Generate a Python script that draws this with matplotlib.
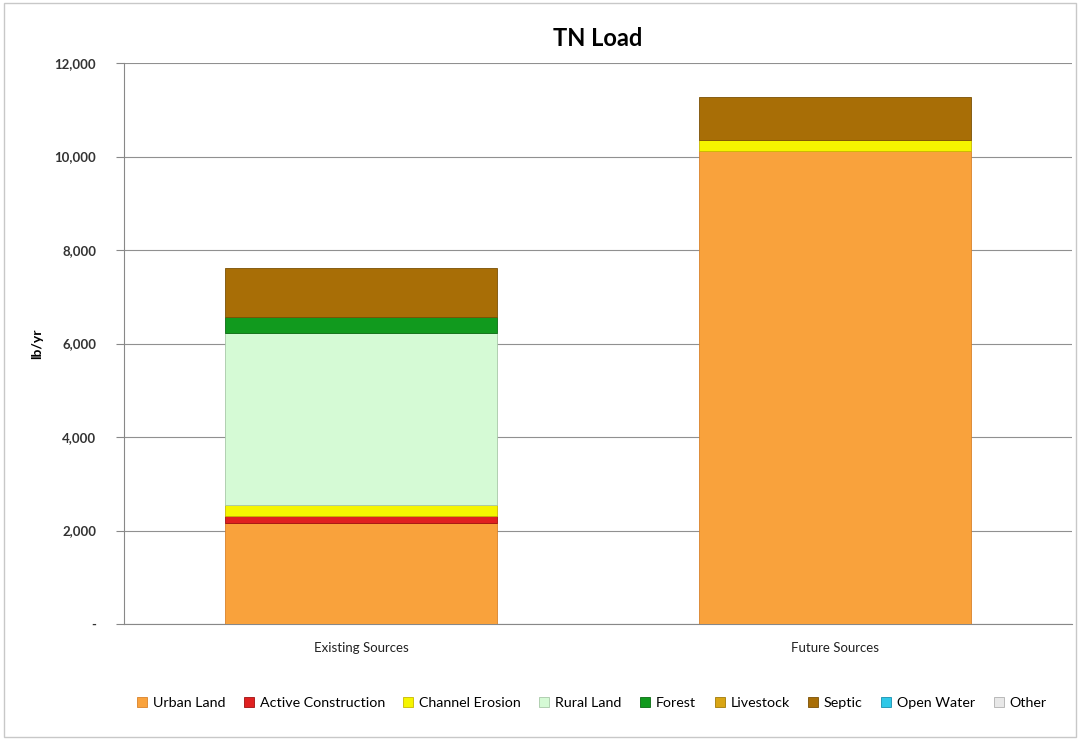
import matplotlib
matplotlib.use("Agg")
import matplotlib.pyplot as plt
from matplotlib.ticker import FuncFormatter
from matplotlib.patches import Rectangle

plt.rcParams['font.family'] = ['Lato', 'DejaVu Sans']

categories = ["Existing Sources", "Future Sources"]
series_names = ["Urban Land", "Active Construction", "Channel Erosion", "Rural Land",
                "Forest", "Livestock", "Septic", "Open Water", "Other"]
urban_land = [2160, 10120]
active_construction = [150, 0]
channel_erosion = [235, 235]
rural_land = [3680, 0]
forest = [340, 0]
livestock = [0, 0]
septic = [1050, 920]
open_water = [0, 0]
other = [0, 0]
yticks = [0, 2000, 4000, 6000, 8000, 10000, 12000]

series = [urban_land, active_construction, channel_erosion, rural_land, forest,
          livestock, septic, open_water, other]
colors = ["#F9A23C", "#E02020", "#F5F500", "#D5FAD5", "#119A1E", "#D9A514",
          "#A86E06", "#2EC8E8", "#E8E8E8"]
edges = ["#D9822A", "#A01010", "#C8B800", "#A8C8A8", "#0A6A12", "#A07A08",
         "#7A5004", "#1890B0", "#B0B0B0"]

fig = plt.figure(figsize=(10.8, 7.4), dpi=100)
fig.patches.append(Rectangle((0.004, 0.004), 0.992, 0.992, transform=fig.transFigure,
                             fill=False, edgecolor="#C8C8C8", linewidth=1.0))
ax = fig.add_axes([124/1080, 1-624/740, 948/1080, 561/740])

x = [0, 1]
bottom = [0, 0]
handles = []
for name, vals, c, e in zip(series_names, series, colors, edges):
    bars = ax.bar(x, vals, width=0.574, bottom=bottom, color=c, edgecolor=e, linewidth=0.6,
                  zorder=3)
    for b, v in zip(bars, vals):
        if v == 0:
            b.set_linewidth(0)
    handles.append(Rectangle((0, 0), 1, 1, facecolor=c, edgecolor=e, linewidth=0.6, label=name))
    bottom = [b + v for b, v in zip(bottom, vals)]

ax.set_xlim(-0.5, 1.5)
ax.set_ylim(0, 12000)
ax.set_yticks(yticks)
ax.yaxis.set_major_formatter(FuncFormatter(lambda v, p: "-" if v == 0 else f"{int(v):,}"))
ax.set_xticks(x)
ax.set_xticklabels(categories, fontsize=9.5, color="#222222")
ax.tick_params(axis='x', length=0, pad=13)
ax.tick_params(axis='y', length=6, color="#888888", labelsize=9.5, pad=14)
for lab in ax.get_yticklabels():
    lab.set_fontweight('bold')
    lab.set_color("#333333")
ax.grid(axis='y', color="#909090", linewidth=0.8, zorder=0)
for s in ['top', 'right']:
    ax.spines[s].set_visible(False)
ax.spines['left'].set_color("#888888")
ax.spines['bottom'].set_color("#888888")
ax.set_ylabel("lb/yr", fontsize=10, fontweight='bold', labelpad=8)
ax.set_title("TN Load", fontsize=17, fontweight='bold', pad=12)

leg = fig.legend(handles=handles, loc='center', bbox_to_anchor=(0.548, 1-703/740), ncol=9,
                 frameon=False, fontsize=10.3, handlelength=0.7, handleheight=0.7,
                 handletextpad=0.4, columnspacing=1.3)

fig.savefig("out.png", dpi=100)
